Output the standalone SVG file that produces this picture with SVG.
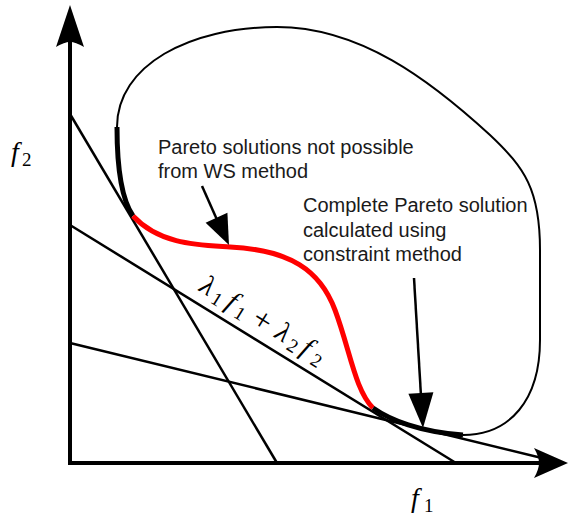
<svg xmlns="http://www.w3.org/2000/svg" width="568" height="516" viewBox="0 0 568 516">
<style>
.ax{stroke:#000;stroke-width:4;fill:none}
.ln{stroke:#000;stroke-width:2.5;fill:none}
.thin{stroke:#000;stroke-width:2;fill:none}
.thick{stroke:#000;stroke-width:5;fill:none}
.red{stroke:#ff0000;stroke-width:5;fill:none}
.head{fill:#000;stroke:none}
.lbl{font-family:"Liberation Sans",Arial,sans-serif;font-size:20px;fill:#1a1a1a}
.m{font-family:"Liberation Serif","Times New Roman",serif;font-style:italic;font-size:28px;fill:#000}
.s{font-family:"Liberation Serif","Times New Roman",serif;font-size:19px;fill:#000}
.mr{font-family:"Liberation Serif","Times New Roman",serif;font-size:32px;fill:#000}
</style>
<rect width="568" height="516" fill="#fff"/>
<g id="axes">
<line class="ax" x1="70" y1="465" x2="70" y2="40"/>
<path class="head" d="M70,5 L84,47 C78,43.5 74,42 70,42 C66,42 62,43.5 56,47 Z"/>
<line class="ax" x1="68" y1="463" x2="540" y2="463"/>
<path class="head" d="M568,463 L534,478 C537.5,472 539,467 539,463 C539,459 537.5,454 534,448 Z"/>
</g>
<g id="lines">
<line class="ln" x1="70" y1="114" x2="277" y2="463"/>
<line class="ln" x1="70" y1="225" x2="456" y2="463"/>
<line class="ln" x1="70" y1="343" x2="550" y2="460"/>
</g>
<g id="curve">
<path class="thin" d="M117,127 C117,65 190,27 277,27 C360,27 430,80 490,135 C525,168 540,190 540,250 L540,340 C540,400 510,435 463,435"/>
<path class="thick" d="M117,127 C117,170 122,200 133,216"/>
<path class="red" d="M133,216 C160,245 200,245 230,247 C290,250 320,270 335,310 C350,350 355,390 373,408"/>
<path class="thick" d="M373,408 C390,420 420,432 463,435"/>
</g>
<g id="annotations">
<line class="ln" x1="202" y1="186" x2="218" y2="222"/>
<polygon class="head" points="229,245 205.6,222.8 227.4,212.8"/>
<line class="ln" x1="414" y1="278" x2="421" y2="396"/>
<polygon class="head" points="423,428 408.4,393.7 433.4,392.3"/>
</g>
<g id="text1">
<text class="lbl" x="158" y="154">Pareto solutions not possible</text>
<text class="lbl" x="158" y="178">from WS method</text>
</g>
<g id="text2">
<text class="lbl" x="303" y="212">Complete Pareto solution</text>
<text class="lbl" x="303" y="236.5">calculated using</text>
<text class="lbl" x="303" y="261">constraint method</text>
</g>
<g id="f2label">
<text class="m" x="11" y="161">f</text>
<text class="s" x="22" y="166">2</text>
</g>
<g id="f1label">
<text class="m" x="411" y="507">f</text>
<text class="s" x="424" y="512">1</text>
</g>
<g id="linelabel" transform="translate(191,300) rotate(31.7)">
<text class="m" x="7" y="-12" text-anchor="middle">λ</text>
<text class="s" x="21.5" y="-8" text-anchor="middle">1</text>
<text class="m" x="35.5" y="-12" text-anchor="middle">f</text>
<text class="s" x="48.5" y="-8" text-anchor="middle">1</text>
<text class="mr" x="71.5" y="-10" text-anchor="middle">+</text>
<text class="m" x="95.5" y="-12" text-anchor="middle">λ</text>
<text class="s" x="110.5" y="-8" text-anchor="middle">2</text>
<text class="m" x="123.5" y="-12" text-anchor="middle">f</text>
<text class="s" x="138.5" y="-8" text-anchor="middle">2</text>
</g>
</svg>
